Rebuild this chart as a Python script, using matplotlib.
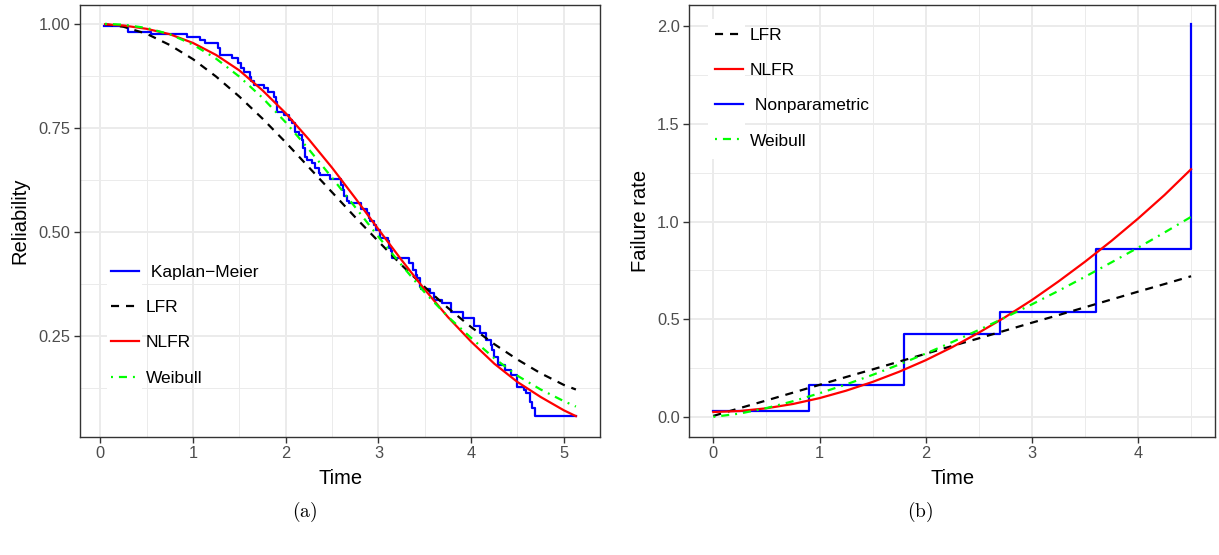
import matplotlib
matplotlib.use("Agg")
import matplotlib.pyplot as plt
from matplotlib.patches import Rectangle
from matplotlib.ticker import MultipleLocator, FormatStrFormatter

plt.rcParams["font.family"] = ["Liberation Sans", "DejaVu Sans"]
plt.rcParams["mathtext.fontset"] = "cm"
plt.rcParams["lines.scale_dashes"] = False

# ---- panel (a): reliability ----
km_time = [0.04, 0.30, 0.55, 0.93, 1.07, 1.13, 1.27, 1.29, 1.42, 1.48, 1.52, 1.55,
           1.61, 1.63, 1.66, 1.76, 1.81, 1.87, 1.90, 1.91, 1.98, 2.03, 2.07, 2.10,
           2.14, 2.18, 2.19, 2.21, 2.23, 2.28, 2.32, 2.36, 2.37, 2.48, 2.60, 2.62,
           2.63, 2.66, 2.68, 2.81, 2.88, 2.90, 2.91, 2.95, 2.97, 3.02, 3.10, 3.11,
           3.13, 3.15, 3.33, 3.37, 3.40, 3.42, 3.45, 3.46, 3.56, 3.60, 3.69, 3.78,
           3.91, 4.03, 4.10, 4.16, 4.21, 4.23, 4.25, 4.29, 4.37, 4.43, 4.50, 4.57,
           4.59, 4.63, 4.66, 4.69, 5.13]
km_surv = [0.995, 0.981, 0.975, 0.968, 0.960, 0.953, 0.942, 0.925, 0.917, 0.905, 0.894, 0.885,
           0.873, 0.862, 0.852, 0.845, 0.837, 0.825, 0.813, 0.789, 0.781, 0.769, 0.761, 0.741,
           0.733, 0.721, 0.701, 0.681, 0.673, 0.665, 0.653, 0.641, 0.637, 0.627, 0.613, 0.601,
           0.585, 0.573, 0.569, 0.555, 0.545, 0.533, 0.525, 0.517, 0.505, 0.485, 0.477, 0.461,
           0.453, 0.437, 0.425, 0.409, 0.397, 0.389, 0.368, 0.362, 0.353, 0.337, 0.329, 0.308,
           0.293, 0.274, 0.256, 0.240, 0.228, 0.216, 0.200, 0.180, 0.168, 0.156, 0.128, 0.119,
           0.112, 0.092, 0.076, 0.058, 0.058]

t_rel = [0.05, 0.25, 0.5, 0.75, 1.0, 1.25, 1.5, 1.75, 2.0, 2.25, 2.5, 2.75, 3.0,
         3.25, 3.5, 3.75, 4.0, 4.25, 4.5, 4.75, 5.0, 5.13]
rel_lfr = [0.999, 0.993, 0.976, 0.949, 0.915, 0.873, 0.825, 0.772, 0.715, 0.655, 0.595,
           0.535, 0.477, 0.420, 0.367, 0.317, 0.271, 0.230, 0.193, 0.160, 0.132, 0.121]
rel_nlfr = [0.999, 0.996, 0.988, 0.975, 0.954, 0.925, 0.888, 0.840, 0.785, 0.722, 0.654,
            0.581, 0.506, 0.432, 0.361, 0.295, 0.236, 0.183, 0.139, 0.103, 0.071, 0.057]
rel_weibull = [1.000, 0.998, 0.990, 0.975, 0.950, 0.916, 0.873, 0.822, 0.763, 0.698, 0.630,
               0.559, 0.488, 0.420, 0.354, 0.296, 0.245, 0.196, 0.154, 0.121, 0.093, 0.080]

# ---- panel (b): failure rate ----
np_time = [0.0, 0.9, 1.8, 2.7, 3.6, 4.5]
np_rate = [0.030, 0.162, 0.425, 0.535, 0.860, 2.010]

t_fr = [0.0, 0.25, 0.5, 0.75, 1.0, 1.25, 1.5, 1.75, 2.0, 2.25, 2.5, 2.75, 3.0,
        3.25, 3.5, 3.75, 4.0, 4.25, 4.5]
fr_lfr = [0.005, 0.045, 0.084, 0.124, 0.164, 0.204, 0.243, 0.283, 0.323, 0.363, 0.402,
          0.442, 0.482, 0.521, 0.561, 0.601, 0.641, 0.680, 0.720]
fr_nlfr = [0.025, 0.030, 0.044, 0.066, 0.096, 0.134, 0.179, 0.231, 0.290, 0.357, 0.431,
           0.511, 0.598, 0.693, 0.794, 0.901, 1.015, 1.136, 1.268]
fr_weibull = [0.000, 0.017, 0.045, 0.080, 0.121, 0.166, 0.215, 0.268, 0.324, 0.383, 0.445,
              0.509, 0.576, 0.645, 0.717, 0.791, 0.866, 0.944, 1.024]

LW = 1.6
DASHED = (5.8, 5.0)
DOTDASH = (1.4, 4.3, 5.8, 4.3)


def style_axes(ax, xmaj, ymaj, yfmt):
    ax.xaxis.set_major_locator(MultipleLocator(xmaj))
    ax.xaxis.set_minor_locator(MultipleLocator(xmaj / 2))
    ax.yaxis.set_major_locator(MultipleLocator(ymaj))
    ax.yaxis.set_minor_locator(MultipleLocator(ymaj / 2))
    ax.yaxis.set_major_formatter(FormatStrFormatter(yfmt))
    ax.grid(which="major", color="#EBEBEB", lw=1.4)
    ax.grid(which="minor", color="#EBEBEB", lw=0.7)
    ax.set_axisbelow(True)
    ax.tick_params(which="major", length=4, width=1.0, color="#333333",
                   labelcolor="#4D4D4D", labelsize=11.8, pad=3)
    ax.tick_params(which="minor", length=0)
    for sp in ax.spines.values():
        sp.set_color("#333333")
        sp.set_linewidth(1.0)


fig = plt.figure(figsize=(12.19, 5.55), dpi=100)
ax1 = fig.add_axes([0.066, 0.2135, 0.4262, 0.778])
ax2 = fig.add_axes([0.5656, 0.2135, 0.4311, 0.778])

# (a)
l_km, = ax1.step(km_time, km_surv, where="post", color="#0000FF", lw=LW)
l_lfr, = ax1.plot(t_rel, rel_lfr, color="black", lw=LW, dashes=DASHED)
l_nlfr, = ax1.plot(t_rel, rel_nlfr, color="#FF0000", lw=LW)
l_wb, = ax1.plot(t_rel, rel_weibull, color="#00FF00", lw=LW, dashes=DOTDASH)
ax1.set_xlim(-0.215, 5.39)
ax1.set_ylim(0.008, 1.046)
style_axes(ax1, 1, 0.25, "%.2f")
ax1.set_xlabel("Time", fontsize=14.5, labelpad=5.5)
ax1.set_ylabel("Reliability", fontsize=14.5, labelpad=7)
ax1.add_patch(Rectangle((0.052, 0.105), 0.067, 0.313, transform=ax1.transAxes,
                        facecolor="white", edgecolor="none", zorder=1))
ax1.legend([l_km, l_lfr, l_nlfr, l_wb], [" Kaplan\u2212Meier", "LFR", "NLFR", "Weibull"],
           loc="upper left", bbox_to_anchor=(0.0587, 0.397), frameon=False,
           fontsize=12.5, handlelength=1.6, handletextpad=0.4, labelspacing=1.15,
           borderpad=0, borderaxespad=0)

# (b)
l_np, = ax2.step(np_time, np_rate, where="post", color="#0000FF", lw=LW)
l_lfr2, = ax2.plot(t_fr, fr_lfr, color="black", lw=LW, dashes=DASHED)
l_nlfr2, = ax2.plot(t_fr, fr_nlfr, color="#FF0000", lw=LW)
l_wb2, = ax2.plot(t_fr, fr_weibull, color="#00FF00", lw=LW, dashes=DOTDASH)
ax2.set_xlim(-0.225, 4.725)
ax2.set_ylim(-0.1005, 2.11)
style_axes(ax2, 1, 0.5, "%.1f")
ax2.set_xlabel("Time", fontsize=14.5, labelpad=5.5)
ax2.set_ylabel("Failure rate", fontsize=14.5, labelpad=5)
ax2.add_patch(Rectangle((0.036, 0.642), 0.069, 0.325, transform=ax2.transAxes,
                        facecolor="white", edgecolor="none", zorder=1))
ax2.legend([l_lfr2, l_nlfr2, l_np, l_wb2], ["LFR", "NLFR", " Nonparametric", "Weibull"],
           loc="upper left", bbox_to_anchor=(0.0485, 0.946), frameon=False,
           fontsize=12.5, handlelength=1.6, handletextpad=0.4, labelspacing=1.15,
           borderpad=0, borderaxespad=0)

fig.text(305 / 1219, 1 - 512 / 555, r"$\mathrm{(a)}$", fontsize=14, ha="center", va="center")
fig.text(920 / 1219, 1 - 512 / 555, r"$\mathrm{(b)}$", fontsize=14, ha="center", va="center")

fig.savefig("out.png", dpi=100)
